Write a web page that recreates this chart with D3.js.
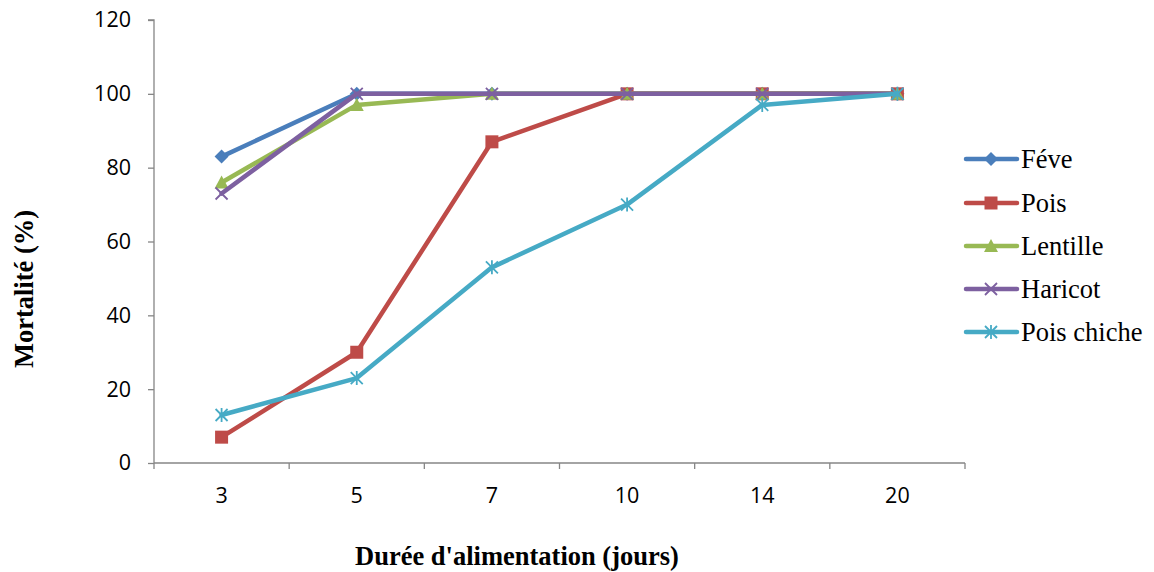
<!DOCTYPE html>
<html><head><meta charset="utf-8">
<script src="https://cdn.jsdelivr.net/npm/d3@7"></script>
<style>body{margin:0;background:#fff}svg{display:block}</style>
</head><body>
<svg id="c" width="1154" height="572"></svg>
<script>
const categories = ["3","5","7","10","14","20"];
const seriesNames = ["Féve","Pois","Lentille","Haricot","Pois chiche"];
const feve = [83,100,100,100,100,100];
const pois = [7,30,87,100,100,100];
const lentille = [76,97,100,100,100,100];
const haricot = [73,100,100,100,100,100];
const poisChiche = [13,23,53,70,97,100];
const yTicks = [0,20,40,60,80,100,120];
const colors = ["#4A7EBB","#BE4B48","#98B954","#7D60A0","#46AAC5"];
const symbols = ["diamond","square","triangle","x","star"];
const allSeries = [feve,pois,lentille,haricot,poisChiche];

const svg = d3.select("#c");
const L=154,R=965,T=20,B=463;
const x = d3.scaleBand().domain(categories).range([L,R]);
const y = d3.scaleLinear().domain([0,120]).range([B,T]);
const axisColor="#868686";
const tickFont="'Open Sans',sans-serif";

// y axis
const ya = svg.append("g").attr("transform",`translate(${L},0)`)
  .call(d3.axisLeft(y).tickValues(yTicks).tickSize(6).tickPadding(17));
ya.select(".domain").attr("stroke",axisColor).attr("stroke-width",1.3).attr("d",`M-6,${T}H0V${B}`);
ya.selectAll(".tick line").attr("stroke",axisColor).attr("stroke-width",1.3);
ya.selectAll(".tick text").attr("font-family",tickFont).attr("font-size",21.5).attr("fill","#000");

// x axis
const xa = svg.append("g").attr("transform",`translate(0,${B})`)
  .call(d3.axisBottom(x).tickSize(0).tickPadding(25));
xa.select(".domain").attr("stroke",axisColor).attr("stroke-width",1.3).attr("d",`M${L},0H${R}`);
xa.selectAll(".tick text").attr("font-family",tickFont).attr("font-size",21.5).attr("fill","#000");
const bounds = categories.map(c=>x(c)).concat([x(categories[categories.length-1])+x.bandwidth()]);
svg.append("g").selectAll("line").data(bounds).join("line")
  .attr("x1",d=>d).attr("x2",d=>d).attr("y1",B).attr("y2",B+6)
  .attr("stroke",axisColor).attr("stroke-width",1.3);

function drawMarker(g, type, cx, cy, color){
  if(type==="diamond"){
    g.append("path").attr("d",`M${cx},${cy-7}L${cx+7},${cy}L${cx},${cy+7}L${cx-7},${cy}Z`).attr("fill",color);
  } else if(type==="square"){
    g.append("rect").attr("x",cx-6.5).attr("y",cy-6.5).attr("width",13).attr("height",13).attr("fill",color);
  } else if(type==="triangle"){
    g.append("path").attr("d",`M${cx},${cy-7}L${cx+7},${cy+6}L${cx-7},${cy+6}Z`).attr("fill",color);
  } else if(type==="x"){
    g.append("path").attr("d",`M${cx-6},${cy-6}L${cx+6},${cy+6}M${cx-6},${cy+6}L${cx+6},${cy-6}`).attr("stroke",color).attr("stroke-width",1.8);
  } else if(type==="star"){
    g.append("path").attr("d",`M${cx-6},${cy-6}L${cx+6},${cy+6}M${cx-6},${cy+6}L${cx+6},${cy-6}M${cx},${cy-7}L${cx},${cy+7}`).attr("stroke",color).attr("stroke-width",1.8);
  }
}

const line = d3.line().x((d,i)=>x(categories[i])+x.bandwidth()/2).y(d=>y(d));
allSeries.forEach((s,k)=>{
  const g = svg.append("g");
  g.append("path").datum(s).attr("d",line).attr("fill","none")
    .attr("stroke",colors[k]).attr("stroke-width",4.5).attr("stroke-linejoin","round").attr("stroke-linecap","round");
  s.forEach((v,i)=>drawMarker(g,symbols[k],x(categories[i])+x.bandwidth()/2,y(v),colors[k]));
});

// legend
const legY = [159,203,246,289,332];
seriesNames.forEach((n,k)=>{
  const g = svg.append("g");
  g.append("line").attr("x1",966).attr("x2",1017).attr("y1",legY[k]).attr("y2",legY[k])
    .attr("stroke",colors[k]).attr("stroke-width",4.5).attr("stroke-linecap","round");
  drawMarker(g,symbols[k],991,legY[k],colors[k]);
  g.append("text").attr("x",1021).attr("y",legY[k]+9).text(n)
    .attr("font-family","'Liberation Serif',serif").attr("font-size",26.5).attr("fill","#000");
});

// axis titles
svg.append("text").attr("x",517).attr("y",565).attr("text-anchor","middle")
  .attr("font-family","'Liberation Serif',serif").attr("font-weight","bold").attr("font-size",26.5)
  .text("Durée d'alimentation (jours)");
svg.append("text").attr("transform","translate(33,289) rotate(-90)").attr("text-anchor","middle")
  .attr("font-family","'Liberation Serif',serif").attr("font-weight","bold").attr("font-size",26.5)
  .text("Mortalité (%)");
</script>
</body></html>
